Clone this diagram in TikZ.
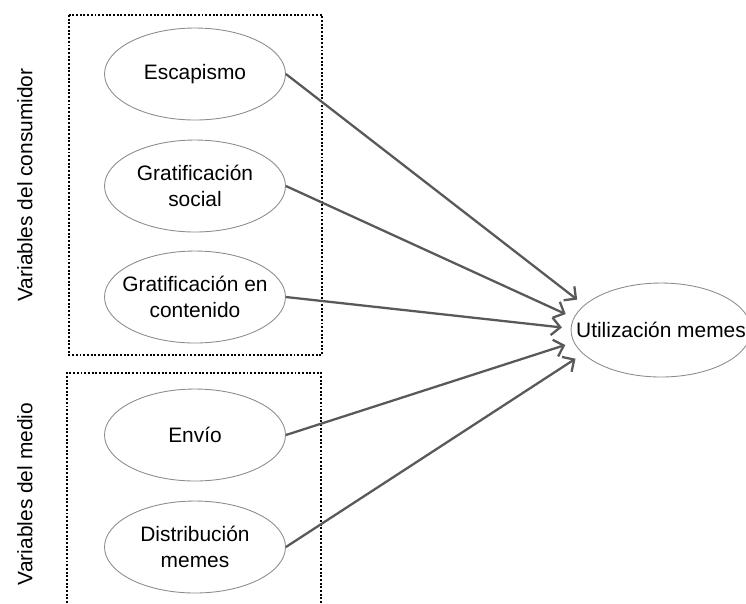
\documentclass[tikz,border=0pt]{standalone}
\usepackage{fontspec}
\setmainfont{Liberation Sans}
\usetikzlibrary{shapes.geometric,
  arrows.meta
}
\tikzset{>={Straight Barb[length=5pt,width=10pt,line width=1.3pt]}}
\tikzset{
  var/.style={ellipse,draw=black!45,line width=0.5pt,minimum width=3.62cm,minimum height=1.84cm,
    inner ysep=0pt,inner xsep=-0.25cm,align=center},
  group/.style={densely dotted,line width=1.1pt},
  link/.style={->,line width=1.3pt,black!65,shorten >=5pt}
}

\begin{document}
\begin{tikzpicture}[x=0.02cm,y=-0.02cm,font=\fontsize{11.9}{14.8}\selectfont]
  \useasboundingbox (0,0) rectangle (746,603);

  % Groups
  \draw[group] (69,15) rectangle (322,355);
  \draw[group] (67,603) -- (67,373) -- (321,373) -- (321,603);
  \node[rotate=90] (consumidor) at (25,185) {Variables del consumidor};
  \node[rotate=90] (medio) at (25,494) {Variables del medio};

  % Consumer variables
  \node[var] (esc) at (195,74) {Escapismo};
  \node[var] (gsoc) at (195,186) {Gratificación\\social};
  \node[var] (gcon) at (195,297) {Gratificación en\\contenido};

  % Medium variables
  \node[var] (envio) at (195,435) {Envío};
  \node[var] (distr) at (195,547) {Distribución\\memes};

  % Outcome
  \node[var,minimum width=3.6cm,minimum height=1.88cm,inner xsep=-0.5cm] (util) at (661,330) {Utilización memes};

  % Links
  \draw[link] (esc.east) -- (util.162);
  \draw[link] (gsoc.east) -- (util.172);
  \draw[link] (gcon.east) -- (util.179);
  \draw[link] (envio.east) -- (util.188);
  \draw[link] (distr.east) -- (util.197);
\end{tikzpicture}
\end{document}
